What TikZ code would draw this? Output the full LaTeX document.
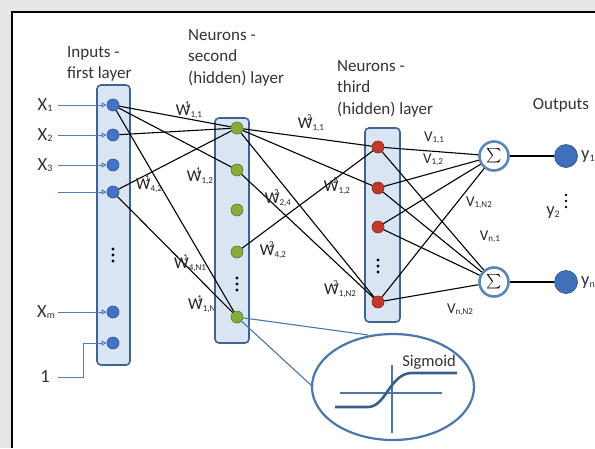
\documentclass[tikz,border=0pt]{standalone}
\usepackage{amsmath}
\usepackage{fontspec}
\setmainfont{Carlito}
\usetikzlibrary{arrows.meta,shapes.geometric}

\definecolor{pagegray}{HTML}{E6E6E6}
\definecolor{boxfill}{HTML}{D9E5F3}
\definecolor{boxline}{HTML}{41648F}
\definecolor{inblue}{HTML}{4472C4}
\definecolor{feedblue}{HTML}{4F7DB5}
\definecolor{hidgreen}{HTML}{86AC3C}
\definecolor{hidred}{HTML}{C4372C}
\definecolor{sumline}{HTML}{5A86B8}
\definecolor{outblue}{HTML}{3F70B9}
\definecolor{sigline}{HTML}{4C77A6}
\definecolor{sigcurve}{HTML}{3A5E87}

\newcommand\tinyscr{\fontsize{9}{9}\selectfont}
\newcommand\wlab[2]{W\rlap{\kern-5.5pt\raisebox{8.5pt}{\tinyscr #1}}\raisebox{-1.5pt}{\tinyscr #2}}
\newcommand\vlab[1]{V\raisebox{-1.5pt}{\tinyscr #1}}
\newcommand\sublab[2]{#1\raisebox{-1.5pt}{\fontsize{10}{10}\selectfont #2}}

\tikzset{
  lay/.style={draw=boxline, line width=1.6pt, fill=boxfill, rounded corners=4pt},
  inp/.style={circle, fill=inblue, draw=inblue!70!black, line width=0.6pt, minimum size=12pt, inner sep=0pt},
  hid/.style={circle, fill=hidgreen, draw=hidgreen!70!black, line width=0.6pt, minimum size=12pt, inner sep=0pt},
  thd/.style={circle, fill=hidred, draw=hidred!70!black, line width=0.6pt, minimum size=12pt, inner sep=0pt},
  sumnode/.style={circle, draw=sumline, line width=2.6pt, fill=white, minimum size=29pt, inner sep=0pt},
  outn/.style={circle, fill=outblue, draw=outblue!70!black, line width=0.6pt, minimum size=23pt, inner sep=0pt},
  wire/.style={line width=1.1pt, black},
  feed/.style={draw=feedblue, line width=1pt, -{Triangle[open,length=5pt,width=5pt]}},
  tether/.style={draw=sigline, line width=1.1pt},
  head/.style={font=\fontsize{17}{21.5}\selectfont, align=left, inner sep=0pt, anchor=north west, text=black!80},
  wl/.style={font=\fontsize{16.5}{16.5}\selectfont, inner sep=0pt, text=black!85},
  vl/.style={font=\fontsize{15}{15}\selectfont, inner sep=0pt, text=black!85},
  xl/.style={font=\fontsize{18.5}{18.5}\selectfont, inner sep=0pt, text=black!80},
  dot/.style={fill=black}
}

\begin{document}
\begin{tikzpicture}[x=1pt,y=-1pt]
\useasboundingbox (0,0) rectangle (595,448);
% page and frame
\fill[pagegray] (0,0) rectangle (595,448);
\fill[white] (12,12) rectangle (595,448);
\draw[line width=2.4pt] (12,448) -- (12,12) -- (595,12);

% headings
\node[head] (hin) at (67,46) {Inputs -\\first layer};
\node[head] (hsec) at (188,29) {Neurons -\\second\\(hidden) layer};
\node[head] (hthi) at (337,60) {Neurons -\\third\\(hidden) layer};
\node[head, anchor=center] (hout) at (561,105) {Outputs};

% weight label partly covered by the second layer box
\node[wl] (w1n1) at (204,304) {\wlab{1}{1,N1}};

% layer boxes
\draw[lay] (97,85) rectangle (130,365);
\draw[lay] (215,118) rectangle (249,343);
\draw[lay] (365,128) rectangle (400,322);

% input layer
\node[inp] (in1) at (113,105) {};
\node[inp] (in2) at (113,135) {};
\node[inp] (in3) at (113,165) {};
\node[inp] (in4) at (113,192) {};
\node[inp] (inm) at (113,312) {};
\node[inp] (inb) at (113,343) {};
\foreach \k in {-6,0,6} \fill[dot] (113,255+\k) circle (1.6);

% second layer
\node[hid] (h1) at (237,128) {};
\node[hid] (h2) at (237,170) {};
\node[hid] (h3) at (237,210) {};
\node[hid] (h4) at (237,252) {};
\node[hid] (hN) at (237,317) {};
\foreach \k in {-6,0,6} \fill[dot] (237,284+\k) circle (1.6);

% third layer
\node[thd] (r1) at (378,147) {};
\node[thd] (r2) at (378,188) {};
\node[thd] (r3) at (378,227) {};
\node[thd] (rN) at (378,302) {};
\foreach \k in {-6,0,6} \fill[dot] (378,266+\k) circle (1.6);

% summation units and outputs
\node[sumnode] (s1) at (494,156) {\fontsize{14}{14}\selectfont$\sum$};
\node[sumnode] (s2) at (494,282) {\fontsize{14}{14}\selectfont$\sum$};
\node[outn] (o1) at (566,156) {};
\node[outn] (on) at (566,282) {};
\node[xl, anchor=west] (y1) at (581,157) {\sublab{y}{1}};
\node[xl, anchor=west] (yn) at (581,283) {\sublab{y}{n}};
\node[xl] (y2) at (553,213) {\sublab{y}{2}};
\foreach \k in {-6,0,6} \fill[dot] (566,201+\k) circle (1.4);

% input feeds
\node[xl] (x1) at (45,105) {\sublab{X}{1}};
\node[xl] (x2) at (45,135) {\sublab{X}{2}};
\node[xl] (x3) at (45,165) {\sublab{X}{3}};
\node[xl] (xm) at (46,312) {\sublab{X}{m}};
\node[xl] (one) at (45,377) {1};
\coordinate (f1) at (58,105);
\coordinate (f2) at (58,135);
\coordinate (f3) at (58,165);
\coordinate (f4) at (58,192);
\coordinate (fm) at (58,312);
\coordinate (fb) at (58,377);
\draw[feed] (f1) -- (in1);
\draw[feed] (f2) -- (in2);
\draw[feed] (f3) -- (in3);
\draw[feed] (f4) -- (in4);
\draw[feed] (fm) -- (inm);
\draw[feed] (fb) -- ++(25,0) |- (inb);

% first to second layer
\draw[wire] (in1) -- (h1);
\draw[wire] (in1) -- (h2);
\draw[wire] (in1) -- (hN);
\draw[wire] (in2) -- (h1);
\draw[wire] (in4) -- (h1);
\draw[wire] (in4) -- (hN);

% second to third layer
\draw[wire] (h1) -- (r1);
\draw[wire] (h1) -- (r2);
\draw[wire] (h1) -- (rN);
\draw[wire] (h2) -- (rN);
\draw[wire] (h4) -- (r1);

% third layer to summation units
\foreach \r in {r1,r2,r3,rN} {
  \draw[wire] (\r) -- (s1);
  \draw[wire] (\r) -- (s2);
}
\draw[wire] (s1) -- (o1);
\draw[wire] (s2) -- (on);

% weight labels
\node[wl] (w111) at (189,110) {\wlab{1}{1,1}};
\node[wl] (w112) at (200,176) {\wlab{1}{1,2}};
\node[wl] (w142) at (149,184) {\wlab{1}{4,2}};
\node[wl] (w14n) at (190,263) {\wlab{1}{4,N1}};
\node[wl] (w211) at (311,123) {\wlab{2}{1,1}};
\node[wl] (w224) at (278,198) {\wlab{2}{2,4}};
\node[wl] (w212) at (337,186) {\wlab{2}{1,2}};
\node[wl] (w242) at (273,250) {\wlab{2}{4,2}};
\node[wl] (w21n) at (340,289) {\wlab{2}{1,N2}};
\node[vl] (v11) at (434,138) {\vlab{1,1}};
\node[vl] (v12) at (433,160) {\vlab{1,2}};
\node[vl] (v1n) at (479,203) {\vlab{1,N2}};
\node[vl] (vn1) at (490,237) {\vlab{n,1}};
\node[vl] (vnn) at (460,310) {\vlab{n,N2}};

% sigmoid detail
\draw[tether] (hN) -- (368,335);
\draw[tether] (hN) -- (312,386);
\node[ellipse, draw=sigline, line width=2.2pt, fill=white, minimum width=162pt, minimum height=106pt, inner sep=0pt] (sig) at (393,387) {};
\draw[sigline, line width=1.3pt] (340,393) -- (442,393);
\draw[sigline, line width=1.3pt] (392,365) -- (392,433);
\draw[sigcurve, line width=2.6pt] (335,407) -- (368,407) .. controls (386,407) and (390,373) .. (412,373) -- (457,373);
\node[font=\fontsize{16.5}{16.5}\selectfont, inner sep=0pt, text=black!80] (sigt) at (429,362) {Sigmoid};
\end{tikzpicture}
\end{document}
